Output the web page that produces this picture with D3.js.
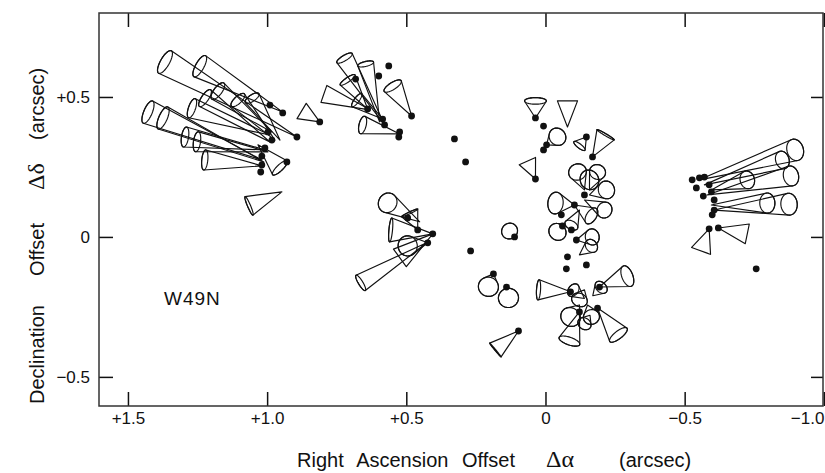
<!DOCTYPE html>
<html>
<head>
<meta charset="utf-8">
<script src="https://cdn.jsdelivr.net/npm/d3@7"></script>
<style>
  body { margin: 0; background: #fff; }
  text { font-family: "Liberation Sans", Arial, sans-serif; fill: #111; }
</style>
</head>
<body>
<div id="plot"></div>
<script>
// Maser spot positions (arcsec offsets)
const dotRA = [0.990, 0.944, 0.893, 0.997, 0.983, 1.008, 1.019, 1.019, 1.023, 0.929, 0.811,
  0.563, 0.599, 0.682, 0.639, 0.585, 0.578, 0.481, 0.524, 0.527, 0.327, 0.287,
  0.495, 0.459, 0.405, 0.423, 0.269,
  0.036, 0.007, -0.004, 0.007, -0.147, -0.169, 0.036, 0.111,
  -0.140, -0.104, -0.057, -0.061, -0.093, -0.111, -0.079, -0.075, -0.147,
  -0.090, -0.122, -0.187, -0.194, 0.187, 0.140, 0.097,
  -0.527, -0.553, -0.571, -0.588, -0.596, -0.606, -0.606, -0.588, -0.621, -0.757,
  -0.542, -0.567, -0.599];
const dotDec = [0.471, 0.443, 0.357, 0.375, 0.346, 0.318, 0.289, 0.257, 0.232, 0.268, 0.411,
  0.611, 0.575, 0.564, 0.457, 0.421, 0.400, 0.432, 0.375, 0.357, 0.350, 0.268,
  0.068, 0.025, 0.011, -0.021, -0.050,
  0.425, 0.396, 0.329, 0.311, 0.357, 0.286, 0.207, 0.000,
  0.150, 0.114, 0.079, 0.039, 0.025, -0.011, -0.071, -0.114, -0.100,
  -0.196, -0.268, -0.254, -0.179, -0.132, -0.179, -0.336,
  0.204, 0.211, 0.214, 0.186, 0.161, 0.132, 0.096, 0.029, 0.032, -0.114,
  0.175, 0.146, 0.079];

// Proper motion cones: apex, projected vector (arcsec), base radius (arcsec), base ellipse ratio
const coneRA = [0.893, 0.944, 1.019, 1.012, 1.008, 0.997, 1.019, 0.990, 0.990, 0.983, 0.972, 0.954, 1.033, 0.947, 0.811,
  0.481, 0.578, 0.596, 0.639, 0.631, 0.585, 0.524,
  0.452, 0.423, 0.405, 0.405, 0.427, 0.459,
  0.036, -0.079, -0.004, -0.147, -0.169, 0.036, 0.111,
  -0.140, -0.158, -0.158, -0.104, -0.140, -0.104, -0.061, -0.111, -0.129, -0.122,
  -0.090, -0.194, -0.122, -0.187, -0.122, -0.151, -0.140, -0.122, -0.140, -0.170, -0.160,
  0.187, 0.140, 0.097,
  -0.553, -0.571, -0.581, -0.596, -0.596, -0.606, -0.588, -0.621];
const coneDec = [0.357, 0.446, 0.275, 0.268, 0.311, 0.304, 0.254, 0.364, 0.339, 0.375, 0.346, 0.346, 0.329, 0.161, 0.411,
  0.432, 0.400, 0.411, 0.457, 0.454, 0.421, 0.368,
  0.054, -0.021, 0.011, 0.011, -0.021, 0.025,
  0.425, 0.393, 0.329, 0.357, 0.286, 0.207, 0.000,
  0.168, 0.168, 0.150, 0.114, 0.132, 0.114, 0.039, -0.011, 0.186, 0.096,
  -0.196, -0.179, -0.268, -0.254, -0.243, -0.243, -0.189, -0.064, -0.220, -0.210, -0.280,
  -0.132, -0.179, -0.336,
  0.204, 0.186, 0.150, 0.168, 0.114, 0.096, 0.029, 0.032];
const coneDRA = [0.474, 0.298, 0.409, 0.362, 0.287, 0.255, 0.205, 0.280, 0.233, 0.194, 0.133, 0.100, -0.079, 0.118, 0.065,
  0.068, 0.144, 0.050, 0.072, 0.165, 0.093, 0.133,
  0.115, 0.072, 0.151, 0.118, 0.237, 0.029,
  0.000, 0.000, -0.039, 0.025, -0.047, 0.029, 0.018,
  0.025, -0.029, -0.061, 0.068, -0.072, -0.061, 0.018, -0.057, -0.029, 0.029,
  0.115, -0.100, 0.036, -0.075, 0.032, -0.014, 0.018, -0.043, 0.040, -0.030, 0.020,
  0.018, -0.007, 0.083,
  -0.344, -0.280, -0.301, -0.129, -0.201, -0.269, 0.029, -0.104];
const coneDDec = [0.268, 0.164, 0.171, 0.157, 0.046, 0.036, 0.021, 0.096, 0.157, 0.146, 0.143, 0.150, -0.082, -0.050, 0.039,
  0.107, 0.239, 0.207, 0.104, 0.057, 0.068, 0.032,
  0.068, -0.011, 0.014, -0.086, -0.143, 0.061,
  0.061, 0.093, 0.029, -0.032, 0.079, 0.064, 0.021,
  0.064, 0.064, 0.018, 0.007, -0.036, -0.039, -0.021, 0.011, 0.018, -0.054,
  0.007, 0.039, -0.104, -0.096, -0.043, -0.043, -0.036, 0.032, 0.030, 0.030, -0.030,
  -0.046, -0.039, -0.068,
  0.107, 0.089, 0.068, 0.036, 0.007, 0.021, -0.079, -0.021];
const coneRad = [0.046, 0.043, 0.043, 0.043, 0.036, 0.036, 0.036, 0.036, 0.036, 0.036, 0.032, 0.029, 0.036, 0.036, 0.032,
  0.036, 0.032, 0.029, 0.032, 0.032, 0.029, 0.032,
  0.036, 0.036, 0.043, 0.039, 0.032, 0.032,
  0.039, 0.036, 0.032, 0.025, 0.036, 0.032, 0.029,
  0.032, 0.029, 0.032, 0.039, 0.029, 0.032, 0.032, 0.029, 0.036, 0.025,
  0.036, 0.039, 0.039, 0.039, 0.036, 0.029, 0.029, 0.025, 0.025, 0.025, 0.025,
  0.036, 0.036, 0.032,
  0.039, 0.032, 0.036, 0.032, 0.036, 0.039, 0.036, 0.036];
const coneTilt = [0.35, 0.35, 0.35, 0.35, 0.35, 0.35, 0.3, 0.35, 0.35, 0.4, 0.4, 0.4, 0.3, 0.15, 0,
  0.35, 0.3, 0.3, 0.25, 0, 0.3, 0.4,
  0.9, 0.95, 0.15, 0, 0.25, 0.1,
  0.3, 0, 0.9, 0.3, 0.1, 0, 0.95,
  0.9, 0.9, 0.9, 0.7, 0.9, 0.55, 0.9, 0.85, 0.9, 0.6,
  0.2, 0.5, 0.35, 0.35, 0.9, 0.9, 0.8, 0.8, 0.7, 0.7, 0.8,
  0.95, 0.95, 0.05,
  0.75, 0.75, 0.75, 0.8, 0.75, 0.75, 0, 0];

const xTicks = [1.5, 1.0, 0.5, 0, -0.5, -1.0];
const xTickLabels = ["+1.5", "+1.0", "+0.5", "0", "\u22120.5", "\u22121.0"];
const yTicks = [0.5, 0, -0.5];
const yTickLabels = ["+0.5", "0", "\u22120.5"];

const W = 825, H = 473;
const mLeft = 99, mRight = 823, mTop = 13, mBottom = 406;

const svg = d3.select("#plot")
  .append("svg")
  .attr("width", W)
  .attr("height", H);

const x = d3.scaleLinear().domain([1.604, -0.997]).range([mLeft, mRight]);
const y = d3.scaleLinear().domain([-0.604, 0.8]).range([mBottom, mTop]);

// axes with inward ticks
const xAxis = svg.append("g")
  .attr("transform", `translate(0, ${mBottom})`)
  .call(d3.axisBottom(x).tickValues(xTicks).tickFormat((d, i) => xTickLabels[i])
    .tickSizeInner(-14).tickSizeOuter(0).tickPadding(6));
xAxis.selectAll("text").style("font-size", "17px");
xAxis.selectAll("text").filter((d, i) => i === 5).attr("text-anchor", "end").attr("dx", 0);

svg.append("g")
  .attr("transform", `translate(0, ${mTop})`)
  .call(d3.axisTop(x).tickValues(xTicks).tickFormat("").tickSizeInner(-14).tickSizeOuter(0));

const yAxis = svg.append("g")
  .attr("transform", `translate(${mLeft}, 0)`)
  .call(d3.axisLeft(y).tickValues(yTicks).tickFormat((d, i) => yTickLabels[i])
    .tickSizeInner(-14).tickSizeOuter(0).tickPadding(9));
yAxis.selectAll("text").style("font-size", "17px");

svg.append("g")
  .attr("transform", `translate(${mRight}, 0)`)
  .call(d3.axisRight(y).tickValues(yTicks).tickFormat("").tickSizeInner(-12).tickSizeOuter(0));

svg.selectAll(".domain").remove();
svg.selectAll(".tick line").attr("stroke", "#111").attr("stroke-width", 1.5);

svg.append("rect")
  .attr("x", mLeft).attr("y", mTop)
  .attr("width", mRight - mLeft).attr("height", mBottom - mTop)
  .attr("fill", "none").attr("stroke", "#333").attr("stroke-width", 1.5);

// cones
const pxPerArc = y(0) - y(1);
const cones = coneRA.map((ra, i) => {
  const ax = x(ra), ay = y(coneDec[i]);
  const bx = x(ra + coneDRA[i]), by = y(coneDec[i] + coneDDec[i]);
  const len = Math.hypot(bx - ax, by - ay) || 1;
  const ux = (bx - ax) / len, uy = (by - ay) / len;
  const nx = -uy, ny = ux;
  const R = coneRad[i] * pxPerArc;
  const t = coneTilt[i];
  const ell = d3.range(72).map(k => {
    const a = k / 72 * 2 * Math.PI;
    return [bx + R * Math.cos(a) * nx + R * t * Math.sin(a) * ux,
            by + R * Math.cos(a) * ny + R * t * Math.sin(a) * uy];
  });
  return { hull: d3.polygonHull(ell.concat([[ax, ay]])), ell: ell, tilt: t };
});

const g = svg.append("g");
g.selectAll(".cone")
  .data(cones)
  .enter()
  .append("path")
  .attr("class", "cone")
  .attr("d", d => "M" + d.hull.join("L") + "Z")
  .attr("fill", "none")
  .attr("stroke", "#111")
  .attr("stroke-width", 1.15)
  .attr("stroke-linejoin", "round");

g.selectAll(".base")
  .data(cones.filter(d => d.tilt > 0.02))
  .enter()
  .append("path")
  .attr("class", "base")
  .attr("d", d => "M" + d.ell.join("L") + "Z")
  .attr("fill", "none")
  .attr("stroke", "#111")
  .attr("stroke-width", 1.15);

// spots
g.selectAll(".dot")
  .data(dotRA)
  .enter()
  .append("circle")
  .attr("class", "dot")
  .attr("cx", d => x(d))
  .attr("cy", (d, i) => y(dotDec[i]))
  .attr("r", 3.4)
  .attr("fill", "#111");

// labels
svg.append("text")
  .attr("x", 164).attr("y", 305)
  .style("font-size", "19px")
  .style("letter-spacing", "1px")
  .text("W49N");

const greek = "'Liberation Serif', 'DejaVu Serif', serif";
const xTitle = [
  { t: "Right Ascension Offset", p: 297 },
  { t: "\u0394\u03b1", p: 546, serif: true }, { t: "(arcsec)", p: 619 }
];
svg.selectAll(".xtitle")
  .data(xTitle)
  .enter()
  .append("text")
  .attr("class", "xtitle")
  .attr("x", d => d.p).attr("y", 467)
  .style("font-size", d => d.serif ? "24px" : "20px")
  .style("font-family", d => d.serif ? greek : null)
  .style("word-spacing", "8px")
  .text(d => d.t);

const yTitle = [
  { t: "Declination", p: 404 }, { t: "Offset", p: 276 },
  { t: "\u0394\u03b4", p: 190, serif: true }, { t: "(arcsec)", p: 140 }
];
svg.selectAll(".ytitle")
  .data(yTitle)
  .enter()
  .append("text")
  .attr("class", "ytitle")
  .attr("transform", d => `translate(44, ${d.p}) rotate(-90)`)
  .style("font-size", d => d.serif ? "24px" : "20px")
  .style("font-family", d => d.serif ? greek : null)
  .text(d => d.t);
</script>
</body>
</html>
